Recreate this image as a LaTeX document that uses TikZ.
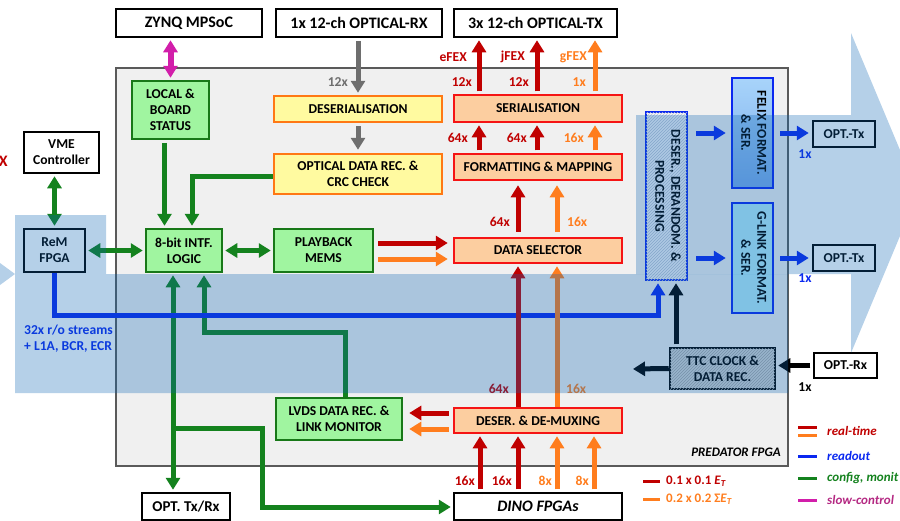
\documentclass[tikz,border=0pt]{standalone}
\usepackage{fontspec}
\usepackage{graphicx}
\setmainfont{Carlito}
\usetikzlibrary{arrows.meta,patterns,calc}

% palette
\definecolor{cred}{RGB}{192,0,0}
\definecolor{corange}{RGB}{255,125,30}
\definecolor{cgreen}{RGB}{20,130,30}
\definecolor{cgreenedge}{RGB}{24,120,24}
\definecolor{cgreenfill}{RGB}{160,245,160}
\definecolor{cblue}{RGB}{10,40,240}
\definecolor{cmag}{RGB}{210,30,170}
\definecolor{cslow}{RGB}{180,40,130}
\definecolor{cgrey}{RGB}{110,110,110}
\definecolor{cyellow}{RGB}{255,250,160}
\definecolor{cyellowedge}{RGB}{255,120,20}
\definecolor{cpeach}{RGB}{252,206,160}
\definecolor{cpeachedge}{RGB}{245,20,20}
\definecolor{coverlay}{RGB}{10,100,180}
\definecolor{cpred}{RGB}{240,240,240}
\definecolor{cpredline}{RGB}{90,90,90}
\definecolor{cfelixtop}{RGB}{168,212,250}
\definecolor{cfelixbot}{RGB}{120,170,235}
\definecolor{cglink}{RGB}{180,235,250}
\definecolor{chatchfill}{RGB}{245,245,248}
\definecolor{chatchline}{RGB}{185,195,212}
\definecolor{cttcfill}{RGB}{215,215,215}
\definecolor{cttcline}{RGB}{165,165,165}

% type sizes
\newcommand\fntbox{\fontsize{13.6}{16}\selectfont\bfseries}
\newcommand\fntbig{\fontsize{16}{19}\selectfont\bfseries}
\newcommand\fntmid{\fontsize{15}{18}\selectfont\bfseries}
\newcommand\fntleg{\fontsize{13}{16}\selectfont\bfseries\itshape}

\tikzset{
  box/.style={draw, line width=2.5pt, inner sep=0pt, align=center, font=\fntbox},
  sz/.style 2 args={minimum width=#1pt, minimum height=#2pt},
  topbox/.style={box, fill=white, draw=black, font=\fntbig},
  plainbox/.style={box, fill=white, draw=black},
  greenbox/.style={box, fill=cgreenfill, draw=cgreenedge},
  yellowbox/.style={box, fill=cyellow, draw=cyellowedge},
  peachbox/.style={box, fill=cpeach, draw=cpeachedge},
  hatchbox/.style={box, fill=chatchfill, draw=cblue,
    postaction={pattern=north east lines, pattern color=chatchline}},
  ttcbox/.style={box, fill=cttcfill, draw=black,
    postaction={pattern=north east lines, pattern color=cttcline}},
  fat/.style={line width=5pt, -{Triangle[length=12pt,width=14pt]},
    shorten <=2.5pt, shorten >=2pt},
  fatboth/.style={line width=5pt,
    {Triangle[length=12pt,width=14pt]}-{Triangle[length=12pt,width=14pt]},
    shorten <=2pt, shorten >=2pt},
  lab/.style={font=\fntbox, inner sep=0pt},
  leg/.style={font=\fntleg, inner sep=0pt, anchor=west},
  legline/.style={line width=3pt},
  veil/.style={fill=coverlay, opacity=0.3},
}

\begin{document}
\begin{tikzpicture}[x=1pt,y=-1pt]
\useasboundingbox (0,0) rectangle (900,520);

% ---- PREDATOR FPGA outline ----
\node[draw=cpredline, fill=cpred, line width=1.2pt, inner sep=0pt,
      sz={672}{398}] (pred) at (452,267) {};
\node[lab, font=\fntleg, anchor=east] (predlab) at (781,452) {PREDATOR FPGA};

% ---- external devices ----
\node[topbox, sz={146}{28}] (zynq) at (189,23) {ZYNQ MPSoC};
\node[topbox, sz={166}{28}] (orx) at (359,23) {1x 12-ch OPTICAL-RX};
\node[topbox, sz={163}{28}] (otx) at (535.5,23) {3x 12-ch OPTICAL-TX};
\node[plainbox, sz={75}{41}] (vme) at (61.5,152.5) {VME\\Controller};
\node[plainbox, sz={61}{43}] (rem) at (54.5,250.5) {ReM\\FPGA};
\node[plainbox, sz={62}{26}] (otx1) at (844,134) {OPT.-Tx};
\node[plainbox, sz={62}{26}] (otx2) at (844,258) {OPT.-Tx};
\node[plainbox, sz={63}{25}] (orx2) at (845.5,365.5) {OPT.-Rx};
\node[plainbox, sz={88}{27}, font=\fntmid] (optrx) at (186,506.5) {OPT. Tx/Rx};
\node[plainbox, sz={168}{27}, font=\fntbig\itshape] (dino) at (538,506.5) {DINO FPGAs};
\node[font=\fntbig, text=cred, anchor=east, inner sep=0pt] (xmark) at (8,161) {X};

% ---- blocks inside the FPGA ----
\node[greenbox, sz={77}{58}] (local) at (170.5,110) {LOCAL \&\\BOARD\\STATUS};
\node[greenbox, sz={76}{43}] (intf) at (184,250.5) {8-bit INTF.\\LOGIC};
\node[greenbox, sz={99}{43}] (play) at (323.5,250.5) {PLAYBACK\\MEMS};
\node[greenbox, sz={126}{42}] (lvds) at (339,419) {LVDS DATA REC. \&\\LINK MONITOR};
\node[yellowbox, sz={168}{26}] (deser) at (358,109) {DESERIALISATION};
\node[yellowbox, sz={168}{40}] (ocrc) at (358,174) {OPTICAL DATA REC. \&\\CRC CHECK};
\node[peachbox, sz={168}{27}] (ser) at (538,108.5) {SERIALISATION};
\node[peachbox, sz={168}{26}] (fmt) at (538,167) {FORMATTING \& MAPPING};
\node[peachbox, sz={168}{25}] (dsel) at (538,250.5) {DATA SELECTOR};
\node[peachbox, sz={168}{25}] (demux) at (538,420.5) {DESER. \& DE-MUXING};
\node[hatchbox, sz={41}{168}] (derand) at (666.5,196)
  {\rotatebox{-90}{\begin{tabular}{@{}c@{}}DESER., DERANDOM. \&\\PROCESSING\end{tabular}}};
\node[box, draw=cblue, top color=cfelixtop, bottom color=cfelixbot, sz={41}{110}] (felix) at (752.5,133)
  {\rotatebox{-90}{\begin{tabular}{@{}c@{}}FELIX FORMAT.\\\& SER.\end{tabular}}};
\node[box, draw=cblue, fill=cglink, sz={41}{110}] (glink) at (752.5,258)
  {\rotatebox{-90}{\begin{tabular}{@{}c@{}}G-LINK FORMAT.\\\& SER.\end{tabular}}};
\node[ttcbox, sz={105}{41}] (ttc) at (722.5,368.5) {TTC CLOCK \&\\DATA REC.};

% ---- slow control ----
\draw[fatboth, cmag, line width=6pt] (local.north) -- (local.north |- zynq.south);

% ---- configuration / monitoring ----
\draw[fatboth, cgreen] (rem.north) -- (rem.north |- vme.south);
\draw[fatboth, cgreen] (rem.east) -- (intf.west);
\draw[fatboth, cgreen] (intf.east) -- (play.west);
\draw[fat, cgreen] ([xshift=-6pt]local.south) -- ([xshift=-6pt]local.south |- intf.north);
\draw[fat, cgreen, shorten <=0pt] ([yshift=-2pt]ocrc.west) -| ([xshift=8pt]intf.north);
\draw[fatboth, cgreen] ([xshift=-11pt]intf.south) -- ([xshift=-11pt]intf.south |- optrx.north);
\coordinate (brk) at (173,428);
\coordinate (bend) at (262,507);
\draw[fat, cgreen, shorten <=0pt] (brk) -| (bend) -- (bend -| dino.west);
\coordinate (lturn) at (204,332);
\draw[fat, cgreen, shorten <=0pt] ([xshift=6pt]lvds.north) |- (lturn) -- ([xshift=20pt]intf.south);

% ---- readout ----
\coordinate (ro) at (658,315);
\draw[fat, cblue, shorten <=0pt] (rem.south) |- (ro) -- (ro |- derand.south);
\node[lab, text=cblue, anchor=north west, align=left] (rolab) at (24,325)
  {32x r/o streams\\+ L1A, BCR, ECR};
\draw[fat, cblue, shorten <=8pt, shorten >=5pt] (derand.east |- felix.west) -- (felix.west);
\draw[fat, cblue, shorten <=8pt, shorten >=5pt] (derand.east |- glink.west) -- (glink.west);
\draw[fat, cblue, shorten <=6pt, shorten >=3pt] (felix.east) -- (felix.east -| otx1.west);
\draw[fat, cblue, shorten <=6pt, shorten >=3pt] (glink.east) -- (glink.east -| otx2.west);
\node[lab, text=cblue] (m1) at (805,154) {1x};
\node[lab, text=cblue] (m2) at (805,278) {1x};

% ---- TTC ----
\draw[fat] ([xshift=9.5pt]derand.south |- ttc.north) -- ([xshift=9.5pt]derand.south);
\coordinate (ttcout) at (631,369);
\draw[fat, shorten <=0pt] (ttc.west) -- (ttcout);
\draw[fat] (orx2.west) -- (orx2.west -| ttc.east);
\node[lab] (m3) at (805,387) {1x};

% ---- optical input ----
\draw[fat, cgrey] (deser.north |- orx.south) -- (deser.north);
\node[lab, text=cgrey, anchor=east] (g12) at (348,82) {12x};
\draw[fat, cgrey, shorten <=3pt, shorten >=3pt] (deser.south) -- (ocrc.north);

% ---- real-time path ----
\draw[fat, cred, shorten <=4pt, shorten >=5pt] ([yshift=7.5pt]play.east) -- ([yshift=7.5pt]play.east -| dsel.west);
\draw[fat, corange, shorten <=4pt, shorten >=5pt] ([yshift=-8.5pt]play.east) -- ([yshift=-8.5pt]play.east -| dsel.west);

\draw[fat, cred, shorten <=5pt, shorten >=4pt] ([xshift=-20pt]dsel.north) -- ([xshift=-20pt]dsel.north |- fmt.south);
\draw[fat, corange, shorten <=5pt, shorten >=4pt] ([xshift=19pt]dsel.north) -- ([xshift=19pt]dsel.north |- fmt.south);
\node[lab, text=cred, anchor=east] (a1) at (510,222) {64x};
\node[lab, text=corange, anchor=west] (a2) at (567,222) {16x};

\draw[fat, cred] ([xshift=-59pt]fmt.north) -- ([xshift=-59pt]fmt.north |- ser.south);
\draw[fat, cred] ([xshift=-1pt]fmt.north) -- ([xshift=-1pt]fmt.north |- ser.south);
\draw[fat, corange] ([xshift=57pt]fmt.north) -- ([xshift=57pt]fmt.north |- ser.south);
\node[lab, text=cred, anchor=east] (b1) at (468,138) {64x};
\node[lab, text=cred, anchor=east] (b2) at (527,138) {64x};
\node[lab, text=corange, anchor=east] (b3) at (584,138) {16x};

\draw[fat, cred] ([xshift=-59pt]ser.north) -- ([xshift=-59pt]ser.north |- otx.south);
\draw[fat, cred] ([xshift=-1pt]ser.north) -- ([xshift=-1pt]ser.north |- otx.south);
\draw[fat, corange] ([xshift=57pt]ser.north) -- ([xshift=57pt]ser.north |- otx.south);
\node[lab, text=cred, anchor=east] (c1) at (472,82) {12x};
\node[lab, text=cred, anchor=east] (c2) at (529,82) {12x};
\node[lab, text=corange, anchor=east] (c3) at (586,82) {1x};
\node[lab, text=cred, anchor=east] (d1) at (467,57) {eFEX};
\node[lab, text=cred, anchor=east] (d2) at (525,57) {jFEX};
\node[lab, text=corange, anchor=east] (d3) at (587,57) {gFEX};

\draw[fat, cred, shorten <=0pt] ([xshift=-20pt]demux.north) -- ([xshift=-20pt]demux.north |- dsel.south);
\draw[fat, corange, shorten <=0pt] ([xshift=19pt]demux.north) -- ([xshift=19pt]demux.north |- dsel.south);
\node[lab, text=cred, anchor=east] (e1) at (509,389) {64x};
\node[lab, text=corange, anchor=west] (e2) at (566,389) {16x};

\draw[fat, cred, shorten <=4pt, shorten >=6pt] ([yshift=7.5pt]demux.west) -- ([yshift=7.5pt]demux.west -| lvds.east);
\draw[fat, corange, shorten <=4pt, shorten >=6pt] ([yshift=-8.5pt]demux.west) -- ([yshift=-8.5pt]demux.west -| lvds.east);

\draw[fat, cred] ([xshift=-58pt]dino.north) -- ([xshift=-58pt]dino.north |- demux.south);
\draw[fat, cred] ([xshift=-20pt]dino.north) -- ([xshift=-20pt]dino.north |- demux.south);
\draw[fat, corange] ([xshift=19pt]dino.north) -- ([xshift=19pt]dino.north |- demux.south);
\draw[fat, corange] ([xshift=56pt]dino.north) -- ([xshift=56pt]dino.north |- demux.south);
\node[lab, text=cred, anchor=east] (f1) at (475,481) {16x};
\node[lab, text=cred, anchor=east] (f2) at (512,481) {16x};
\node[lab, text=corange, anchor=east] (f3) at (552,481) {8x};
\node[lab, text=corange, anchor=east] (f4) at (589,481) {8x};

% ---- legends ----
\draw[legline, cred] (643,481) -- (660,481);
\node[lab, font=\fntleg\upshape, text=cred, anchor=west] (l1) at (666,481) {0.1 x 0.1 \textit{E}\textsubscript{\textit{T}}};
\draw[legline, corange] (643,499) -- (660,499);
\node[lab, font=\fntleg\upshape, text=corange, anchor=west] (l2) at (666,499) {0.2 x 0.2 Σ\textit{E}\textsubscript{\textit{T}}};

\draw[legline, cred] (798,427) -- (817,427);
\draw[legline, corange] (798,435) -- (817,435);
\node[leg, text=cred] (k1) at (827,431) {real-time};
\draw[legline, cblue] (798,456) -- (817,456);
\node[leg, text=cblue] (k2) at (827,456) {readout};
\draw[legline, cgreen] (798,478) -- (817,478);
\node[leg, text=cgreen] (k3) at (827,478) {config, monit};
\draw[legline, cmag] (798,500) -- (817,500);
\node[leg, text=cslow] (k4) at (827,500) {slow-control};

% ---- translucent signal-path band ----
\fill[veil] (-30,241) -- (15,274) -- (-30,307) -- cycle;
\fill[veil] (15,215) -- (106,215) -- (106,274) -- (788,274) -- (788,393) -- (15,393) -- cycle;
\fill[veil] (636,115) -- (851,115) -- (851,33) -- (918,193) -- (851,353) -- (851,274) -- (636,274) -- cycle;
\end{tikzpicture}
\end{document}
